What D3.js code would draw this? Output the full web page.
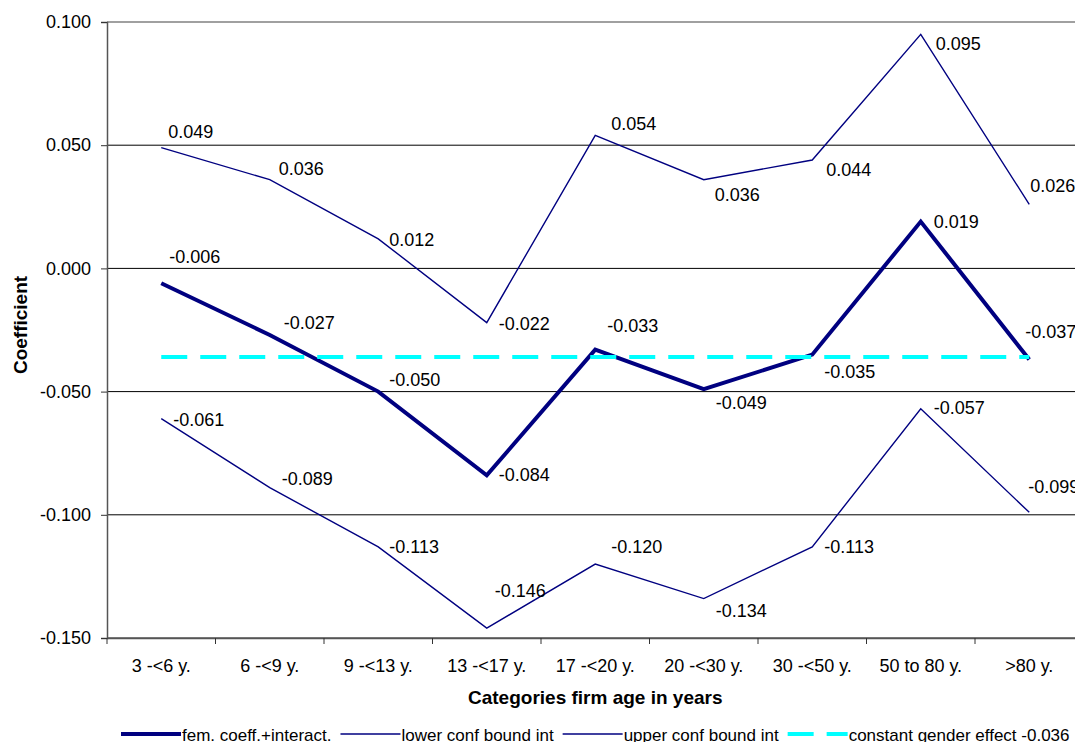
<!DOCTYPE html>
<html>
<head>
<meta charset="utf-8">
<script src="https://cdn.jsdelivr.net/npm/d3@7"></script>
<style>
  html, body { margin: 0; padding: 0; background: #fff; }
  svg { display: block; font-family: "Liberation Sans", Arial, sans-serif; }
</style>
</head>
<body>
<svg id="chart" width="1075" height="742"></svg>
<script>
// ---- data ----
const categories = ["3 -<6 y.", "6 -<9 y.", "9 -<13 y.", "13 -<17 y.", "17 -<20 y.", "20 -<30 y.", "30 -<50 y.", "50 to 80 y.", ">80 y."];
const femCoeff   = [-0.006, -0.027, -0.050, -0.084, -0.033, -0.049, -0.035, 0.019, -0.037];
const lowerBound = [-0.061, -0.089, -0.113, -0.146, -0.120, -0.134, -0.113, -0.057, -0.099];
const upperBound = [0.049, 0.036, 0.012, -0.022, 0.054, 0.036, 0.044, 0.095, 0.026];
const constantEffect = [-0.036, -0.036, -0.036, -0.036, -0.036, -0.036, -0.036, -0.036, -0.036];
const yTicks = [0.100, 0.050, 0.000, -0.050, -0.100, -0.150];
const seriesNames = ["fem. coeff.+interact.", "lower conf bound int", "upper conf bound int", "constant gender effect -0.036"];

// ---- label placement (presentation only: [dx, dy] from point to label start/baseline) ----
const femLabelOff   = [[8,-20],[14,-6],[11,-6],[12,6],[12,-18],[12,20],[12,23],[13,6],[-4,-22]];
const lowerLabelOff = [[12,7],[12,-3],[11,6],[8,-31],[16,-11],[12,18],[12,6],[13,5],[-1,-19]];
const upperLabelOff = [[7,-10],[9,-5],[11,7],[12,7],[16,-5],[11,21],[14,16],[15,16],[1,-12]];

const svg = d3.select("#chart");
const plotLeft = 107, plotTop = 22, plotBottom = 638, band = 108.5;

const x = d3.scaleBand().domain(categories).range([plotLeft, plotLeft + band * categories.length]).padding(0);
const y = d3.scaleLinear().domain([-0.15, 0.10]).range([plotBottom, plotTop]);
const cx = c => x(c) + x.bandwidth() / 2;

// gridlines
svg.append("g").selectAll("line").data(yTicks).join("line")
  .attr("x1", plotLeft).attr("x2", x.range()[1])
  .attr("y1", d => y(d)).attr("y2", d => y(d))
  .attr("stroke", d => d === 0.1 ? "#808080" : "#000").attr("stroke-width", d => d === 0.1 ? 1.5 : 1);

// y axis
const yAxis = svg.append("g").attr("transform", `translate(${plotLeft},0)`)
  .call(d3.axisLeft(y).tickValues(yTicks).tickFormat(d => d.toFixed(3)).tickSize(6).tickPadding(10));
yAxis.select(".domain").attr("stroke", "#555").attr("stroke-width", 1.5);
yAxis.selectAll(".tick line").attr("stroke", "#333");
yAxis.selectAll(".tick text").attr("font-size", 18).attr("fill", "#000")
  .attr("font-family", "Liberation Sans, Arial, sans-serif");

// x axis (labels at category centers, ticks at category boundaries)
const xAxis = svg.append("g").attr("transform", `translate(0,${plotBottom})`)
  .call(d3.axisBottom(x).tickSize(0).tickPadding(0));
xAxis.select(".domain").attr("stroke", "#555").attr("stroke-width", 1.5);
xAxis.selectAll(".tick text").attr("font-size", 18).attr("fill", "#000")
  .attr("font-family", "Liberation Sans, Arial, sans-serif")
  .attr("y", 34).attr("dy", 0);
svg.append("g").selectAll("line").data(categories).join("line")
  .attr("x1", d => x(d)).attr("x2", d => x(d))
  .attr("y1", plotBottom).attr("y2", plotBottom + 6)
  .attr("stroke", "#333");

// axis titles
svg.append("text").attr("x", plotLeft + band * categories.length / 2).attr("y", 704)
  .attr("text-anchor", "middle").attr("font-size", 19).attr("font-weight", "bold")
  .text("Categories firm age in years");
svg.append("text").attr("transform", "translate(27,325) rotate(-90)")
  .attr("text-anchor", "middle").attr("font-size", 19).attr("font-weight", "bold")
  .text("Coefficient");

const line = d3.line().x((d, i) => cx(categories[i])).y(d => y(d));

// series lines
svg.append("path").datum(lowerBound).attr("d", line)
  .attr("fill", "none").attr("stroke", "#000080").attr("stroke-width", 1.4);
svg.append("path").datum(upperBound).attr("d", line)
  .attr("fill", "none").attr("stroke", "#000080").attr("stroke-width", 1.4);
svg.append("path").datum(femCoeff).attr("d", line)
  .attr("fill", "none").attr("stroke", "#000080").attr("stroke-width", 4);
svg.append("path").datum(constantEffect).attr("d", line)
  .attr("fill", "none").attr("stroke", "#00FFFF").attr("stroke-width", 4)
  .attr("stroke-dasharray", "26,13");

// data labels
function labels(values, offs) {
  svg.append("g").selectAll("text").data(values).join("text")
    .attr("x", (d, i) => cx(categories[i]) + offs[i][0])
    .attr("y", (d, i) => y(d) + offs[i][1])
    .attr("font-size", 18).attr("fill", "#000")
    .text(d => d.toFixed(3));
}
labels(upperBound, upperLabelOff);
labels(femCoeff, femLabelOff);
labels(lowerBound, lowerLabelOff);

// legend
const legendStyles = [
  { stroke: "#000080", w: 4, dash: null },
  { stroke: "#000080", w: 1.4, dash: null },
  { stroke: "#000080", w: 1.4, dash: null },
  { stroke: "#00FFFF", w: 4, dash: "26,13" }
];
const lg = svg.append("g");
let cur = 0;
seriesNames.forEach((name, i) => {
  const st = legendStyles[i];
  lg.append("line").attr("x1", cur).attr("x2", cur + 60).attr("y1", 734).attr("y2", 734)
    .attr("stroke", st.stroke).attr("stroke-width", st.w)
    .attr("stroke-dasharray", st.dash);
  const t = lg.append("text").attr("x", cur + 61).attr("y", 741).attr("font-size", 17).text(name);
  cur += 61 + t.node().getComputedTextLength() + 9;
});
const total = cur - 9;
lg.attr("transform", `translate(${plotLeft + band * categories.length / 2 - total / 2},0)`);
</script>
</body>
</html>
